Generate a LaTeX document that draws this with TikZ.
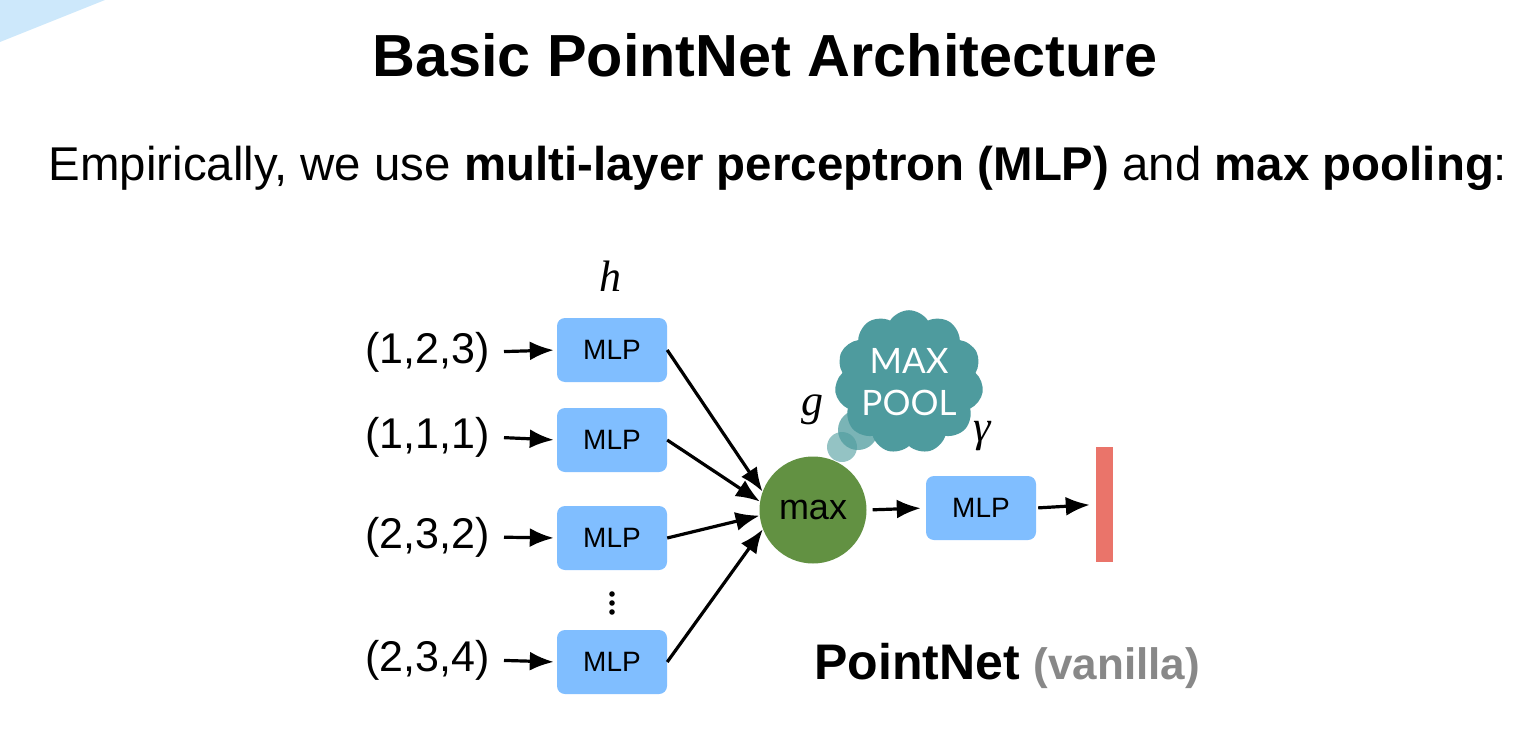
\documentclass[tikz,border=0pt]{standalone}
\usepackage{fontspec}
\setmainfont{Liberation Sans}
\newfontfamily\serifit{Liberation Serif}[ItalicFont={Liberation Serif Italic}]
\newfontfamily\cloudfont{Lato}
\usetikzlibrary{arrows.meta,shapes.symbols}
\definecolor{mlpblue}{RGB}{128,190,255}
\definecolor{maxgreen}{RGB}{98,145,66}
\definecolor{cloudteal}{RGB}{78,155,158}
\definecolor{barred}{RGB}{234,116,106}
\definecolor{cornerblue}{RGB}{205,232,251}
\definecolor{vanillagray}{RGB}{136,136,136}
\tikzset{
  mlpbox/.style={rectangle, rounded corners=8pt, fill=mlpblue, minimum width=110pt, minimum height=64pt, inner sep=0pt, font=\fontsize{28}{30}\selectfont},
  inlabel/.style={anchor=east, inner sep=0pt, font=\fontsize{43}{46}\selectfont},
  arr/.style={line width=3.2pt, -{Latex[length=24pt,width=19pt]}},
  varlabel/.style={font=\serifit\itshape\fontsize{44}{46}\selectfont, inner sep=0pt},
}
\begin{document}
\begin{tikzpicture}[x=1pt,y=-1pt]
\useasboundingbox (0,0) rectangle (1518,752);
\fill[white] (0,0) rectangle (1518,752);
\fill[cornerblue] (0,0) -- (105,0) -- (0,42) -- cycle;

\node (title) at (765,55) {\fontsize{59.4}{64}\selectfont\bfseries Basic PointNet Architecture};
\node (sub) at (778,168) {\fontsize{47.4}{52}\selectfont Empirically, we use \textbf{multi-layer perceptron (MLP)} and \textbf{max pooling}:};

\node[varlabel] (h) at (610,276) {h};

\node[inlabel] (l1) at (490,352) {(1,2,3)};
\node[inlabel] (l2) at (490,437) {(1,1,1)};
\node[inlabel] (l3) at (490,537) {(2,3,2)};
\node[inlabel] (l4) at (490,660) {(2,3,4)};

\node[mlpbox] (m1) at (612,350) {MLP};
\node[mlpbox] (m2) at (612,440) {MLP};
\node[mlpbox] (m3) at (612,538) {MLP};
\node[mlpbox] (m4) at (612,662) {MLP};
\foreach \yy in {594,603,612}{ \fill (612,\yy) circle (2.8pt); }

\foreach \i in {1,2,3,4}{
  \draw[arr, shorten <=14pt, shorten >=3pt] (l\i.east) -- (m\i.west);
}

\node[circle, fill=maxgreen, minimum size=107pt, inner sep=0pt, font=\fontsize{36}{38}\selectfont] (max) at (813,510) {max};
\node[varlabel] (g) at (812,410) {g};

\draw[arr] (m1.east) -- (max.160);
\draw[arr] (m2.east) -- (max.171);
\draw[arr] (m3.east) -- (max.186);
\draw[arr] (m4.east) -- (max.201);

\fill[cloudteal, opacity=0.6] (842,447) circle (15pt);
\fill[cloudteal, opacity=0.75] (858,430) circle (20pt);
\node[cloud, cloud puffs=11, cloud puff arc=115, aspect=1.05, fill=cloudteal, minimum width=124pt, minimum height=116pt, inner sep=0pt, text=white, align=center, font=\cloudfont\fontsize{35}{42}\selectfont] (pool) at (909,382) {MAX\\POOL};

\node[varlabel] (gam) at (982,436) {γ};

\node[mlpbox] (m5) at (981,508) {MLP};
\fill[barred] (1096,447) rectangle (1113,562);
\node[inner sep=0pt, minimum width=17pt, minimum height=115pt] (bar) at (1104.5,504.5) {};

\draw[arr, shorten <=6pt, shorten >=5pt] (max.east) -- (m5.west);
\draw[arr, shorten <=2pt, shorten >=6pt] (m5.east) -- (bar.west);

\node[anchor=base west, inner sep=0pt] (pn) at (814,679) {\fontsize{50}{54}\selectfont\bfseries PointNet \textcolor{vanillagray}{\fontsize{44}{48}\selectfont(vanilla)}};
\end{tikzpicture}
\end{document}
